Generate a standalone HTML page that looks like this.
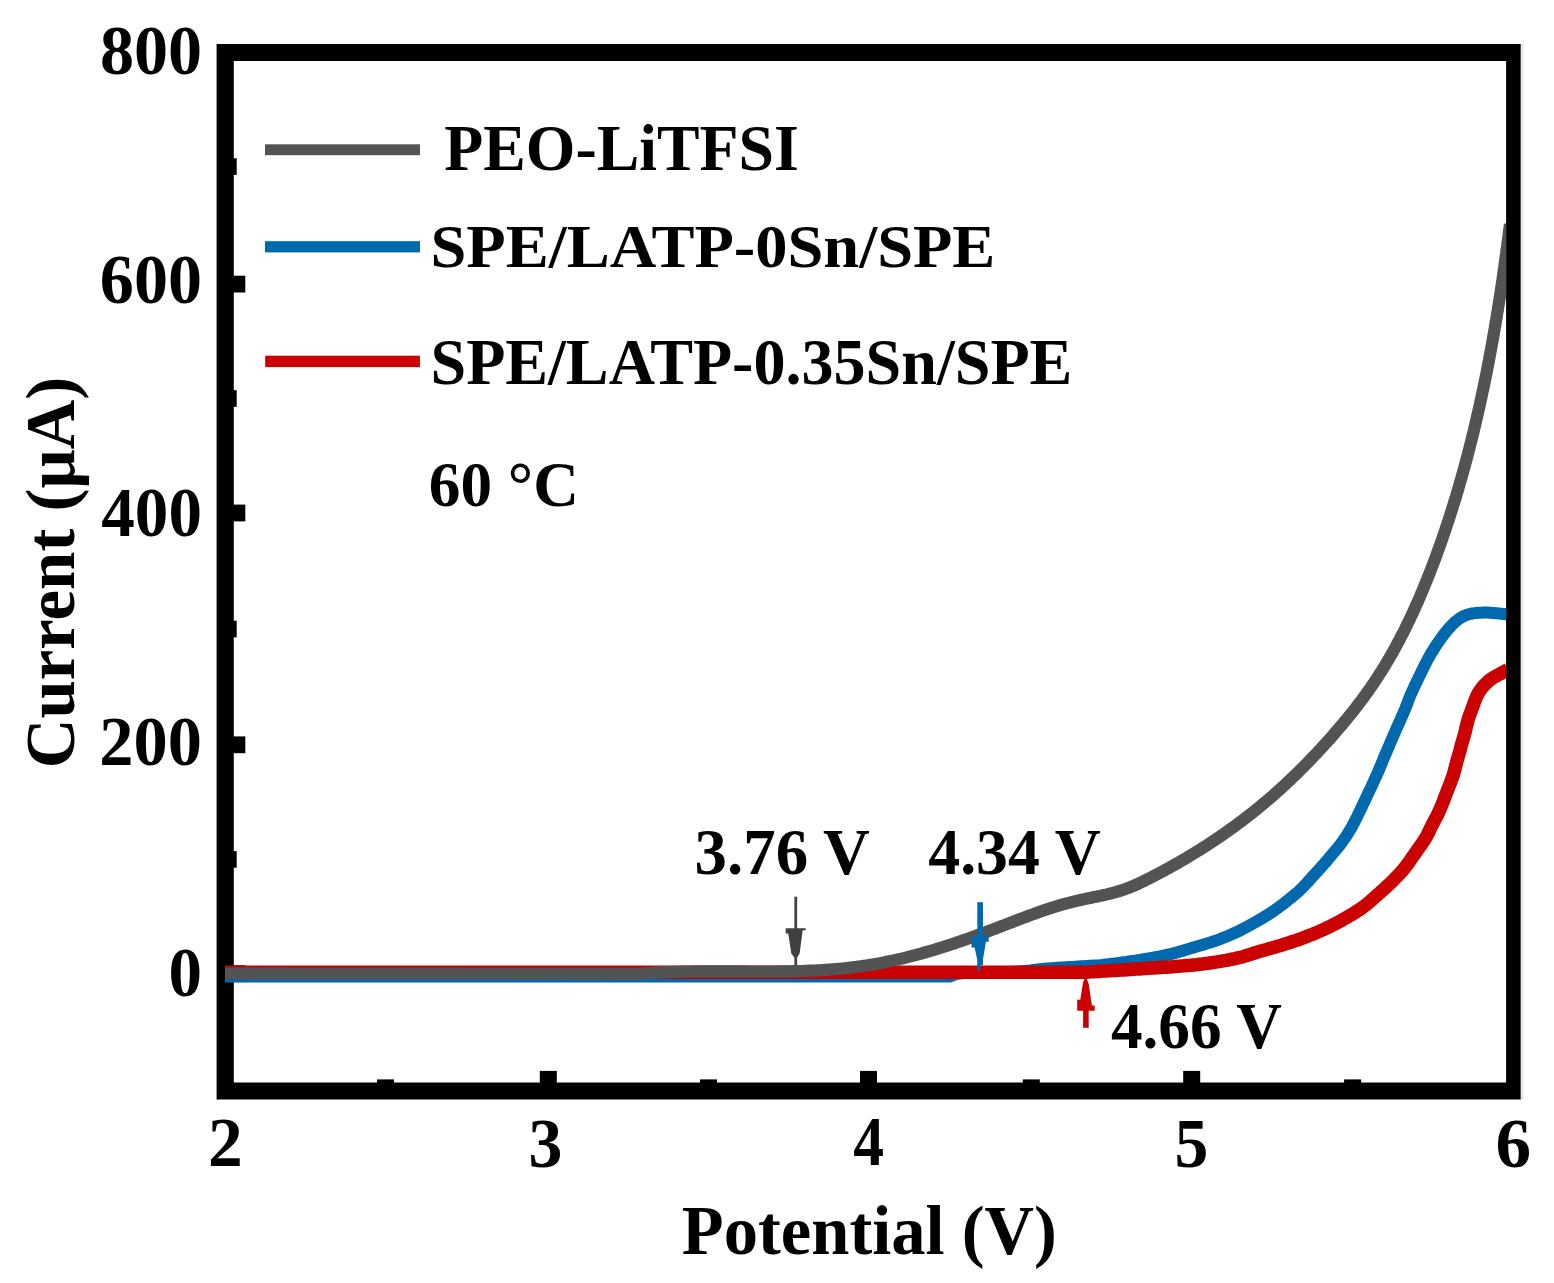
<!DOCTYPE html><html><head><meta charset="utf-8"><title>LSV curves</title><style>html,body{margin:0;padding:0;background:#fff;overflow:hidden}svg{display:block}</style></head><body><svg width="1554" height="1283" viewBox="0 0 1554 1283"><rect width="100%" height="100%" fill="#fff"/><g id="frame"><path fill="#000" fill-rule="evenodd" d="M216.6 43.9H1520.7V1099.6H216.6Z M233.8 60.9V1082.5H1506.1V60.9Z"/><rect x="232.8" y="275.7" width="12.5" height="16.8"/><rect x="232.8" y="504.6" width="12.5" height="16.8"/><rect x="232.8" y="736.4" width="12.5" height="16.8"/><rect x="232.8" y="965.3" width="12.5" height="16.8"/><rect x="232.8" y="158.3" width="3.9" height="16.6"/><rect x="232.8" y="390.2" width="3.9" height="16.6"/><rect x="232.8" y="620.7" width="3.9" height="16.6"/><rect x="232.8" y="851.1" width="3.9" height="16.6"/><rect x="539.8" y="1070.9" width="17" height="12.6"/><rect x="860.0" y="1070.9" width="17" height="12.6"/><rect x="1183.2" y="1070.9" width="17" height="12.6"/><rect x="377.0" y="1079.4" width="17" height="4.1"/><rect x="700.0" y="1079.4" width="17" height="4.1"/><rect x="1022.8" y="1079.4" width="17" height="4.1"/><rect x="1344.1" y="1079.4" width="17" height="4.1"/><rect x="1521.6" y="43.9" width="1.6" height="1055.7" fill="#dcdcdc"/></g><defs><clipPath id="pc"><rect x="225" y="60.9" width="1281.1" height="1021.6"/></clipPath></defs><g id="curves" fill="none" stroke-linejoin="round" clip-path="url(#pc)"><path d="M225.0 976.4L950.0 976.4L953.8 974.9L956.0 974.2L958.6 973.7L961.4 973.3L964.3 973.0L967.3 972.9L970.3 972.8L973.3 972.7L976.3 972.7L979.3 972.6L982.3 972.6L985.3 972.5L988.3 972.5L991.3 972.4L994.3 972.4L997.3 972.3L1000.4 972.2L1003.4 972.2L1006.4 972.1L1009.4 972.0L1012.4 971.8L1015.4 971.7L1018.4 971.5L1021.4 971.3L1024.4 971.1L1027.4 970.7L1030.4 970.4L1033.3 970.0L1036.3 969.6L1039.3 969.3L1042.3 968.9L1045.3 968.6L1048.3 968.4L1051.3 968.2L1054.3 968.0L1057.3 967.8L1060.3 967.6L1063.3 967.4L1066.3 967.2L1069.3 967.0L1072.3 966.9L1075.3 966.7L1078.3 966.5L1081.3 966.3L1084.3 966.2L1087.3 966.0L1090.3 965.8L1093.3 965.6L1096.3 965.4L1099.3 965.2L1102.3 964.9L1105.3 964.5L1108.3 964.2L1111.3 963.8L1114.3 963.5L1117.2 963.1L1120.2 962.7L1123.2 962.3L1126.2 961.9L1129.2 961.4L1132.1 961.0L1135.1 960.6L1138.1 960.1L1141.1 959.7L1144.0 959.2L1147.0 958.7L1150.0 958.2L1152.9 957.7L1155.9 957.1L1158.8 956.6L1161.8 956.0L1164.7 955.4L1167.7 954.7L1170.6 954.1L1173.5 953.3L1176.4 952.6L1179.3 951.7L1182.2 950.9L1185.1 950.0L1187.9 949.1L1190.8 948.2L1193.7 947.4L1196.6 946.5L1199.5 945.7L1202.4 944.9L1205.3 944.0L1208.1 943.1L1211.0 942.2L1213.9 941.3L1216.7 940.3L1219.5 939.3L1222.3 938.2L1225.1 937.1L1227.9 936.0L1230.7 934.8L1233.4 933.6L1236.2 932.3L1238.9 931.1L1241.6 929.7L1244.2 928.3L1246.9 926.9L1249.5 925.4L1252.1 924.0L1254.8 922.5L1257.4 921.0L1260.0 919.5L1262.6 918.0L1265.1 916.4L1267.7 914.8L1270.2 913.2L1272.7 911.6L1275.2 909.8L1277.7 908.1L1280.1 906.3L1282.5 904.5L1284.8 902.7L1287.2 900.8L1289.6 898.9L1291.9 897.0L1294.2 895.1L1296.5 893.2L1298.8 891.2L1300.9 889.1L1303.1 887.0L1305.1 884.8L1307.2 882.6L1309.2 880.4L1311.2 878.1L1313.2 875.9L1315.2 873.7L1317.3 871.5L1319.3 869.3L1321.3 867.0L1323.3 864.8L1325.3 862.5L1327.3 860.2L1329.2 857.9L1331.1 855.6L1333.1 853.3L1335.0 851.0L1336.9 848.7L1338.8 846.4L1340.7 844.0L1342.4 841.6L1344.2 839.1L1345.9 836.7L1347.5 834.1L1349.1 831.6L1350.6 829.0L1352.1 826.4L1353.5 823.7L1354.9 821.1L1356.2 818.4L1357.6 815.7L1358.9 813.0L1360.2 810.3L1361.5 807.6L1362.8 804.8L1364.1 802.1L1365.4 799.4L1366.6 796.7L1367.9 794.0L1369.2 791.2L1370.5 788.5L1371.8 785.8L1373.0 783.1L1374.3 780.3L1375.5 777.6L1376.8 774.9L1378.0 772.1L1379.2 769.3L1380.3 766.6L1381.5 763.8L1382.6 761.0L1383.8 758.2L1384.9 755.4L1386.1 752.7L1387.3 749.9L1388.5 747.1L1389.7 744.4L1390.8 741.6L1392.0 738.9L1393.2 736.1L1394.4 733.3L1395.6 730.6L1396.8 727.8L1398.1 725.1L1399.3 722.3L1400.5 719.6L1401.7 716.8L1403.0 714.1L1404.1 711.3L1405.3 708.5L1406.4 705.7L1407.5 702.9L1408.5 700.1L1409.6 697.3L1410.8 694.5L1412.0 691.8L1413.2 689.1L1414.5 686.3L1415.8 683.6L1417.1 680.9L1418.4 678.2L1419.7 675.5L1421.0 672.8L1422.4 670.1L1423.7 667.4L1425.0 664.7L1426.4 662.0L1427.8 659.3L1429.2 656.7L1430.7 654.1L1432.3 651.5L1433.9 649.0L1435.5 646.4L1437.1 643.9L1438.8 641.5L1440.6 639.0L1442.3 636.6L1444.1 634.2L1446.0 631.8L1447.9 629.5L1449.9 627.2L1451.9 625.1L1454.1 623.0L1456.3 621.0L1458.7 619.2L1461.1 617.5L1463.7 616.1L1466.4 615.0L1469.2 614.1L1472.1 613.5L1475.1 613.1L1478.0 612.8L1481.0 612.7L1484.0 612.6L1487.0 612.6L1490.0 612.8L1493.0 613.0L1496.0 613.2L1498.9 613.5L1501.5 613.8L1503.8 614.0L1508.0 614.5L1508.0 614.5" stroke="#0068ac" stroke-width="12"/><path d="M225.0 972.2L1085.0 972.2L1088.8 972.0L1091.3 971.8L1094.1 971.7L1097.1 971.5L1100.1 971.3L1103.1 971.1L1106.1 970.9L1109.1 970.8L1112.1 970.6L1115.1 970.4L1118.1 970.2L1121.1 970.1L1124.1 969.9L1127.1 969.7L1130.1 969.5L1133.2 969.3L1136.2 969.1L1139.2 968.9L1142.2 968.7L1145.2 968.5L1148.2 968.3L1151.2 968.1L1154.2 967.9L1157.2 967.7L1160.2 967.5L1163.2 967.3L1166.3 967.2L1169.3 967.0L1172.3 966.8L1175.3 966.5L1178.3 966.3L1181.3 966.1L1184.3 965.8L1187.3 965.5L1190.3 965.3L1193.3 965.0L1196.3 964.7L1199.3 964.3L1202.3 964.0L1205.3 963.6L1208.3 963.2L1211.2 962.8L1214.2 962.3L1217.2 961.9L1220.2 961.4L1223.2 960.9L1226.1 960.4L1229.1 959.8L1232.0 959.2L1235.0 958.6L1237.9 957.9L1240.8 957.2L1243.7 956.4L1246.6 955.5L1249.5 954.6L1252.4 953.7L1255.3 952.8L1258.1 951.9L1261.0 951.0L1263.9 950.2L1266.8 949.4L1269.7 948.5L1272.6 947.7L1275.5 946.9L1278.4 946.1L1281.3 945.2L1284.2 944.3L1287.1 943.4L1289.9 942.5L1292.8 941.5L1295.7 940.6L1298.5 939.6L1301.3 938.6L1304.2 937.5L1307.0 936.4L1309.8 935.3L1312.6 934.2L1315.4 933.1L1318.2 931.9L1320.9 930.7L1323.7 929.5L1326.4 928.2L1329.1 926.9L1331.8 925.5L1334.5 924.2L1337.2 922.8L1339.8 921.4L1342.4 919.9L1345.1 918.4L1347.7 916.9L1350.3 915.3L1352.9 913.8L1355.4 912.2L1358.0 910.6L1360.5 908.9L1362.9 907.2L1365.3 905.4L1367.7 903.5L1370.0 901.5L1372.2 899.5L1374.5 897.5L1376.7 895.5L1379.0 893.5L1381.2 891.5L1383.5 889.5L1385.7 887.5L1387.9 885.4L1390.1 883.4L1392.3 881.3L1394.4 879.1L1396.5 877.0L1398.6 874.8L1400.7 872.6L1402.7 870.4L1404.6 868.0L1406.4 865.7L1408.2 863.2L1409.9 860.8L1411.6 858.3L1413.4 855.8L1415.1 853.4L1416.8 850.9L1418.6 848.4L1420.3 846.0L1422.0 843.5L1423.7 841.0L1425.3 838.5L1426.8 835.9L1428.2 833.2L1429.5 830.5L1430.7 827.8L1432.1 825.1L1433.5 822.4L1434.9 819.8L1436.3 817.1L1437.7 814.4L1438.9 811.7L1440.2 808.9L1441.3 806.2L1442.5 803.4L1443.6 800.6L1444.6 797.8L1445.7 794.9L1446.8 792.1L1447.9 789.3L1449.0 786.5L1450.1 783.7L1451.2 780.9L1452.2 778.1L1453.2 775.2L1454.0 772.3L1454.8 769.4L1455.5 766.5L1456.3 763.6L1457.0 760.7L1457.9 757.8L1458.7 754.9L1459.6 752.0L1460.4 749.1L1461.1 746.2L1461.9 743.3L1462.7 740.4L1463.6 737.5L1464.4 734.7L1465.2 731.8L1465.9 728.8L1466.5 725.9L1467.2 723.0L1468.0 720.1L1468.9 717.2L1469.9 714.4L1471.0 711.6L1472.0 708.8L1473.1 705.9L1474.1 703.1L1475.1 700.3L1476.2 697.5L1477.5 694.8L1478.9 692.2L1480.6 689.7L1482.4 687.3L1484.4 685.1L1486.5 682.9L1488.7 680.9L1491.0 679.1L1493.5 677.5L1496.1 676.0L1498.7 674.6L1501.3 673.2L1503.6 671.9L1505.5 670.9L1508.0 669.5" stroke="#cb0000" stroke-width="13.5"/><path d="M225.0 973.5L640.1 973.9L642.1 973.8L644.1 973.6L646.0 973.4L648.0 973.3L650.0 973.1L652.0 973.0L653.9 972.9L655.9 972.7L657.9 972.6L659.9 972.5L661.9 972.4L663.9 972.3L665.8 972.2L667.8 972.1L669.8 972.0L671.8 972.0L673.8 971.9L675.8 971.8L677.8 971.8L679.8 971.7L681.8 971.7L683.8 971.6L685.8 971.6L687.8 971.5L689.8 971.5L691.8 971.5L693.8 971.4L695.8 971.4L697.8 971.4L699.8 971.4L701.8 971.3L703.8 971.3L705.8 971.3L707.8 971.3L709.8 971.3L711.9 971.3L713.9 971.3L715.9 971.3L717.9 971.3L719.9 971.3L721.9 971.3L723.9 971.3L726.0 971.3L728.0 971.3L730.0 971.4L732.0 971.4L734.0 971.4L736.0 971.4L738.1 971.4L740.1 971.4L742.1 971.4L744.1 971.4L746.1 971.4L748.1 971.5L750.2 971.5L752.2 971.5L754.2 971.5L756.2 971.5L758.2 971.5L760.3 971.5L762.3 971.5L764.3 971.5L766.3 971.5L768.3 971.5L770.3 971.5L772.4 971.5L774.4 971.5L776.4 971.5L778.4 971.4L780.4 971.4L782.5 971.4L784.5 971.4L786.5 971.3L788.5 971.3L790.5 971.3L792.5 971.2L794.5 971.2L796.6 971.1L798.6 971.1L800.6 971.0L802.6 971.0L804.6 970.9L806.6 970.8L808.6 970.7L810.6 970.7L812.6 970.6L814.6 970.5L816.6 970.4L818.6 970.3L820.6 970.2L822.7 970.0L824.7 969.9L826.7 969.8L828.7 969.6L830.6 969.5L832.6 969.3L834.6 969.2L836.6 969.0L838.6 968.8L840.6 968.7L842.6 968.5L844.6 968.3L846.6 968.1L848.6 967.8L850.6 967.6L852.5 967.4L854.5 967.1L856.5 966.9L858.5 966.6L860.5 966.4L862.4 966.1L864.4 965.8L866.4 965.5L868.4 965.2L870.3 964.9L872.3 964.6L874.3 964.2L876.2 963.9L878.2 963.5L880.1 963.2L882.1 962.8L884.1 962.4L886.0 962.0L888.0 961.6L889.9 961.2L891.9 960.8L893.8 960.4L895.8 959.9L897.7 959.5L899.7 959.0L901.6 958.6L903.6 958.1L905.5 957.6L907.4 957.2L909.4 956.7L911.3 956.2L913.2 955.7L915.2 955.2L917.1 954.6L919.0 954.1L921.0 953.6L922.9 953.0L924.8 952.5L926.7 952.0L928.7 951.4L930.6 950.8L932.5 950.3L934.4 949.7L936.3 949.1L938.2 948.5L940.2 947.9L942.1 947.3L944.0 946.7L945.9 946.1L947.8 945.5L949.7 944.9L951.6 944.2L953.5 943.6L955.4 943.0L957.3 942.3L959.2 941.7L961.1 941.0L963.0 940.4L964.9 939.7L966.8 939.1L968.7 938.4L970.6 937.7L972.5 937.0L974.4 936.4L976.2 935.7L978.1 935.0L980.0 934.3L981.9 933.6L983.8 932.9L985.7 932.2L987.5 931.5L989.4 930.8L991.3 930.1L993.2 929.4L995.1 928.7L996.9 928.0L998.8 927.2L1000.7 926.5L1002.5 925.8L1004.4 925.1L1006.3 924.4L1008.2 923.6L1010.0 922.9L1011.9 922.2L1013.8 921.5L1015.6 920.7L1017.5 920.0L1019.4 919.3L1021.2 918.6L1023.1 917.9L1025.0 917.2L1026.9 916.5L1028.7 915.8L1030.6 915.1L1032.5 914.4L1034.4 913.7L1036.3 913.0L1038.1 912.4L1040.0 911.7L1041.9 911.0L1043.8 910.4L1045.7 909.7L1047.6 909.1L1049.5 908.5L1051.4 907.9L1053.3 907.3L1055.2 906.7L1057.1 906.1L1059.0 905.5L1061.0 904.9L1062.9 904.4L1064.8 903.9L1066.7 903.3L1068.7 902.8L1070.6 902.3L1072.6 901.8L1074.5 901.3L1076.5 900.9L1078.4 900.4L1080.4 900.0L1082.4 899.6L1084.3 899.2L1086.3 898.7L1088.3 898.3L1090.3 897.9L1092.2 897.5L1094.2 897.1L1096.2 896.7L1098.2 896.3L1100.1 895.9L1102.1 895.5L1104.1 895.0L1106.0 894.6L1108.0 894.1L1109.9 893.6L1111.9 893.1L1113.8 892.6L1115.7 892.1L1117.6 891.5L1119.6 891.0L1121.5 890.4L1123.4 889.7L1125.2 889.1L1127.1 888.4L1129.0 887.7L1130.8 886.9L1132.7 886.2L1134.5 885.4L1136.3 884.6L1138.2 883.8L1140.0 882.9L1141.8 882.0L1143.6 881.2L1145.4 880.3L1147.2 879.4L1149.0 878.5L1150.8 877.6L1152.5 876.7L1154.3 875.7L1156.1 874.8L1157.9 873.9L1159.6 872.9L1161.4 872.0L1163.2 871.1L1165.0 870.1L1166.7 869.1L1168.5 868.2L1170.2 867.2L1172.0 866.2L1173.7 865.2L1175.5 864.3L1177.2 863.3L1179.0 862.3L1180.7 861.3L1182.4 860.3L1184.2 859.2L1185.9 858.2L1187.6 857.2L1189.4 856.2L1191.1 855.1L1192.8 854.1L1194.5 853.0L1196.2 852.0L1197.9 850.9L1199.6 849.9L1201.3 848.8L1203.0 847.7L1204.7 846.7L1206.4 845.6L1208.1 844.5L1209.8 843.4L1211.4 842.3L1213.1 841.2L1214.8 840.1L1216.4 838.9L1218.1 837.8L1219.8 836.7L1221.4 835.6L1223.1 834.4L1224.7 833.3L1226.4 832.1L1228.0 831.0L1229.6 829.8L1231.3 828.6L1232.9 827.5L1234.5 826.3L1236.1 825.1L1237.7 823.9L1239.3 822.7L1240.9 821.5L1242.5 820.3L1244.1 819.1L1245.7 817.9L1247.3 816.6L1248.9 815.4L1250.5 814.2L1252.1 812.9L1253.6 811.7L1255.2 810.5L1256.7 809.2L1258.3 807.9L1259.9 806.7L1261.4 805.4L1262.9 804.1L1264.5 802.8L1266.0 801.5L1267.5 800.2L1269.1 798.9L1270.6 797.6L1272.1 796.3L1273.6 795.0L1275.1 793.7L1276.6 792.4L1278.1 791.0L1279.6 789.7L1281.1 788.3L1282.5 787.0L1284.0 785.6L1285.5 784.3L1286.9 782.9L1288.4 781.5L1289.8 780.2L1291.3 778.8L1292.7 777.4L1294.2 776.0L1295.6 774.6L1297.1 773.2L1298.5 771.8L1299.9 770.4L1301.3 769.0L1302.7 767.6L1304.2 766.2L1305.6 764.7L1307.0 763.3L1308.4 761.9L1309.8 760.4L1311.1 759.0L1312.5 757.5L1313.9 756.1L1315.3 754.6L1316.7 753.2L1318.0 751.7L1319.4 750.2L1320.8 748.8L1322.1 747.3L1323.5 745.8L1324.8 744.3L1326.2 742.8L1327.5 741.4L1328.9 739.9L1330.2 738.4L1331.5 736.9L1332.9 735.4L1334.2 733.8L1335.5 732.3L1336.8 730.8L1338.1 729.3L1339.4 727.8L1340.7 726.2L1342.0 724.7L1343.3 723.2L1344.6 721.6L1345.9 720.1L1347.2 718.5L1348.4 717.0L1349.7 715.4L1350.9 713.9L1352.2 712.3L1353.4 710.7L1354.7 709.2L1355.9 707.6L1357.1 706.0L1358.3 704.4L1359.6 702.8L1360.8 701.2L1362.0 699.6L1363.2 698.0L1364.3 696.4L1365.5 694.8L1366.7 693.1L1367.9 691.5L1369.0 689.9L1370.2 688.2L1371.3 686.6L1372.4 684.9L1373.6 683.3L1374.7 681.6L1375.8 680.0L1376.9 678.3L1378.0 676.6L1379.0 674.9L1380.1 673.2L1381.2 671.6L1382.3 669.9L1383.3 668.2L1384.4 666.5L1385.4 664.7L1386.4 663.0L1387.4 661.3L1388.5 659.6L1389.5 657.9L1390.5 656.1L1391.5 654.4L1392.5 652.7L1393.4 650.9L1394.4 649.2L1395.4 647.4L1396.3 645.7L1397.3 643.9L1398.2 642.1L1399.2 640.4L1400.1 638.6L1401.0 636.8L1401.9 635.0L1402.9 633.2L1403.8 631.5L1404.7 629.7L1405.6 627.9L1406.4 626.1L1407.3 624.3L1408.2 622.5L1409.1 620.7L1409.9 618.9L1410.8 617.0L1411.6 615.2L1412.5 613.4L1413.3 611.6L1414.2 609.8L1415.0 607.9L1415.8 606.1L1416.6 604.3L1417.5 602.4L1418.3 600.6L1419.1 598.7L1419.9 596.9L1420.6 595.1L1421.4 593.2L1422.2 591.4L1423.0 589.5L1423.8 587.6L1424.5 585.8L1425.3 583.9L1426.0 582.1L1426.8 580.2L1427.5 578.3L1428.3 576.5L1429.0 574.6L1429.8 572.7L1430.5 570.9L1431.2 569.0L1431.9 567.1L1432.7 565.2L1433.4 563.4L1434.1 561.5L1434.8 559.6L1435.5 557.7L1436.2 555.8L1436.9 553.9L1437.5 552.1L1438.2 550.2L1438.9 548.3L1439.6 546.4L1440.3 544.5L1440.9 542.6L1441.6 540.7L1442.3 538.8L1442.9 536.9L1443.6 535.0L1444.2 533.1L1444.9 531.2L1445.5 529.3L1446.1 527.4L1446.8 525.5L1447.4 523.6L1448.0 521.7L1448.7 519.8L1449.3 517.9L1449.9 516.0L1450.5 514.1L1451.1 512.2L1451.7 510.3L1452.3 508.4L1452.9 506.5L1453.5 504.5L1454.1 502.6L1454.7 500.7L1455.3 498.8L1455.9 496.9L1456.4 495.0L1457.0 493.0L1457.6 491.1L1458.2 489.2L1458.7 487.3L1459.3 485.4L1459.8 483.4L1460.4 481.5L1460.9 479.6L1461.5 477.7L1462.0 475.7L1462.6 473.8L1463.1 471.9L1463.6 469.9L1464.2 468.0L1464.7 466.1L1465.2 464.2L1465.7 462.2L1466.3 460.3L1466.8 458.3L1467.3 456.4L1467.8 454.5L1468.3 452.5L1468.8 450.6L1469.3 448.7L1469.8 446.7L1470.3 444.8L1470.8 442.8L1471.3 440.9L1471.8 439.0L1472.2 437.0L1472.7 435.1L1473.2 433.1L1473.7 431.2L1474.1 429.2L1474.6 427.3L1475.1 425.3L1475.5 423.4L1476.0 421.4L1476.4 419.5L1476.9 417.5L1477.3 415.6L1477.8 413.6L1478.2 411.7L1478.7 409.7L1479.1 407.8L1479.6 405.8L1480.0 403.9L1480.4 401.9L1480.8 399.9L1481.3 398.0L1481.7 396.0L1482.1 394.1L1482.5 392.1L1482.9 390.2L1483.4 388.2L1483.8 386.2L1484.2 384.3L1484.6 382.3L1485.0 380.3L1485.4 378.4L1485.8 376.4L1486.2 374.5L1486.6 372.5L1487.0 370.5L1487.3 368.6L1487.7 366.6L1488.1 364.6L1488.5 362.7L1488.9 360.7L1489.2 358.7L1489.6 356.7L1490.0 354.8L1490.3 352.8L1490.7 350.8L1491.1 348.9L1491.4 346.9L1491.8 344.9L1492.2 342.9L1492.5 341.0L1492.9 339.0L1493.2 337.0L1493.6 335.1L1493.9 333.1L1494.2 331.1L1494.6 329.1L1494.9 327.2L1495.3 325.2L1495.6 323.2L1495.9 321.2L1496.3 319.2L1496.6 317.3L1496.9 315.3L1497.2 313.3L1497.6 311.3L1497.9 309.3L1498.2 307.4L1498.5 305.4L1498.8 303.4L1499.1 301.4L1499.5 299.4L1499.8 297.5L1500.1 295.5L1500.4 293.5L1500.7 291.5L1501.0 289.5L1501.3 287.5L1501.6 285.6L1501.9 283.6L1502.2 281.6L1502.5 279.6L1502.8 277.6L1503.0 275.6L1503.3 273.7L1503.6 271.7L1503.9 269.7L1504.2 267.7L1504.5 265.7L1504.7 263.7L1505.0 261.7L1505.3 259.8L1505.6 257.8L1505.8 255.8L1506.1 253.8L1506.4 251.8L1506.6 249.8L1506.9 247.8L1507.2 245.9L1507.4 243.9L1507.7 241.9L1508.0 239.9L1508.2 237.9L1508.5 235.9L1508.7 233.9L1509.0 231.9L1509.2 229.9L1509.5 228.0L1509.8 226.0L1510.0 224.0" stroke="#535353" stroke-width="12.2"/></g><g fill="#404040"><rect x="794.4" y="896.7" width="2.7" height="68.6"/><polygon points="785.7,928.2 805.7,928.2 805.7,930.3 802.7,930.3 799.6,953.5 797.1,957.5 794.4,957.5 791.3,953.5 788.2,933.4 785.7,933.4"/></g><g fill="#0068ac"><rect x="977.3" y="902.2" width="5.7" height="63"/><rect x="977.4" y="964" width="2.8" height="6.7"/><polygon points="971.5,936.4 988.7,936.4 988.7,941.7 985.9,941.7 983.05,959 977.1,959 974.6,947.6 971.5,947.6"/></g><g fill="#cb0000"><rect x="1083.1" y="985" width="5.6" height="42.8"/><polygon points="1077.2,1010.7 1094.7,1010.7 1094.7,1005.4 1091.9,1005.4 1088.7,984 1085.9,976.6 1083.1,982 1080.3,999.8 1077.2,999.8"/></g><g id="leg"><rect x="265" y="144.3" width="155" height="10.9" fill="#535353"/><rect x="265" y="241.2" width="155" height="11.2" fill="#0068ac"/><rect x="265.2" y="355.7" width="154.7" height="11.4" fill="#cb0000"/></g><g id="texts" font-family="'Liberation Serif', 'Times New Roman', serif" font-weight="bold" fill="#000"><text id="y800" transform="translate(99.94 74.00) scale(0.9729 1)" font-size="70.00">800</text><text id="y600" transform="translate(99.87 302.50) scale(0.9726 1)" font-size="70.00">600</text><text id="y400" transform="translate(101.28 535.80) scale(0.9588 1)" font-size="70.00">400</text><text id="y200" transform="translate(99.33 764.90) scale(0.9779 1)" font-size="70.00">200</text><text id="y0" transform="translate(168.45 995.50) scale(0.9573 1)" font-size="70.00">0</text><text id="x2" transform="translate(208.09 1165.50) scale(0.9913 1)" font-size="70.00">2</text><text id="x3" transform="translate(528.45 1166.50) scale(0.9675 1)" font-size="70.00">3</text><text id="x4" transform="translate(853.36 1165.40) scale(0.8795 1)" font-size="70.00">4</text><text id="x5" transform="translate(1174.59 1166.50) scale(0.9685 1)" font-size="70.00">5</text><text id="x6" transform="translate(1495.46 1166.50) scale(1.0178 1)" font-size="70.00">6</text><text id="xt" transform="translate(681.83 1253.50) scale(0.9797 1)" font-size="70.00">Potential (V)</text><text id="l1" transform="translate(444.31 169.50) scale(0.9759 1)" font-size="65.40">PEO-LiTFSI</text><text id="l2" transform="translate(430.47 266.60) scale(1.0658 1)" font-size="60.50">SPE/LATP-0Sn/SPE</text><text id="l3" transform="translate(430.49 384.00) scale(0.9804 1)" font-size="65.40">SPE/LATP-0.35Sn/SPE</text><text id="t60" transform="translate(428.84 506.00) scale(0.9941 1)" font-size="63.60">60 °C</text><text id="a1" transform="translate(694.56 873.50) scale(0.9904 1)" font-size="65.50">3.76 V</text><text id="a2" transform="translate(928.23 873.50) scale(0.9742 1)" font-size="65.50">4.34 V</text><text id="a3" transform="translate(1110.94 1047.90) scale(0.9699 1)" font-size="65.20">4.66 V</text><text id="yt" transform="translate(73.50 768.26) rotate(-90) scale(0.9835 1)" font-size="70.00">Current (μA)</text></g></svg></body></html>
